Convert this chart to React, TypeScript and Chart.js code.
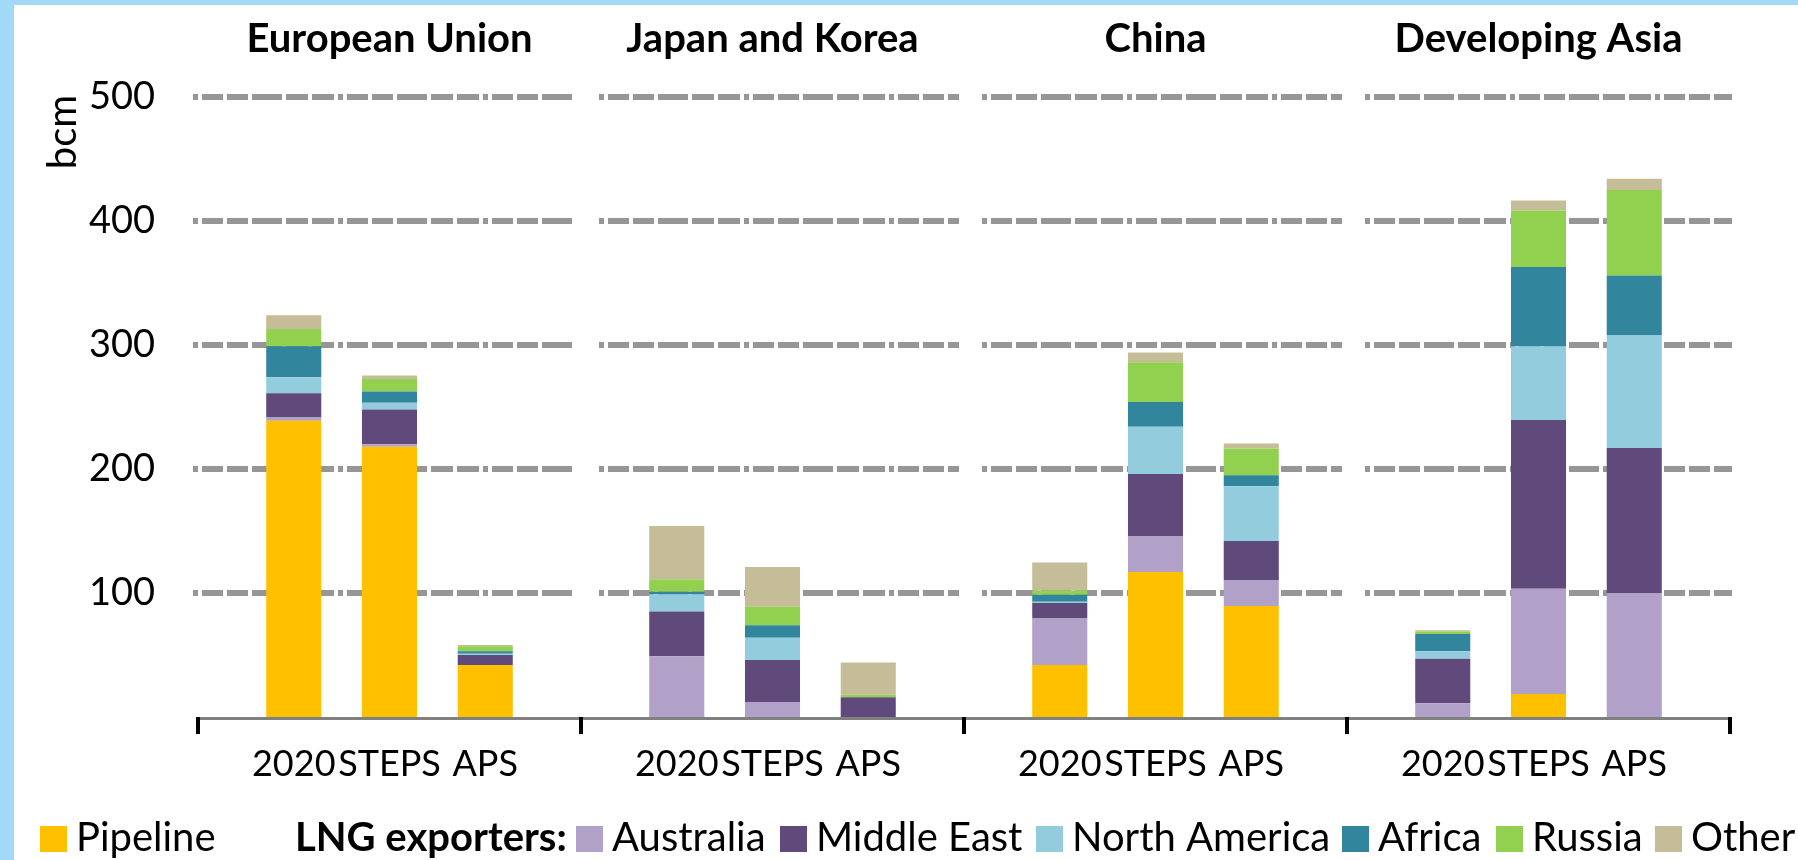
import React, { useEffect, useRef } from 'react';
import { Chart, registerables } from 'chart.js';

Chart.register(...registerables);

// ---------- data ----------
const panels = ['European Union', 'Japan and Korea', 'China', 'Developing Asia'];
const scenarios = ['2020', 'STEPS', 'APS'];
const yTicks = [100, 200, 300, 400, 500];

// values in bcm, per panel [2020, STEPS, APS]
const pipeline = [239, 218, 42, 0, 0, 0, 42, 117, 89.5, 0, 18.5, 0];
const australia = [2.5, 2, 0, 49, 12, 0, 37.5, 29, 21, 11, 85, 100];
const middleEast = [19.5, 28, 8, 36, 34, 16, 12.5, 50, 31.5, 36, 136, 117];
const northAmerica = [13, 5.5, 1, 14, 18, 0, 1, 38, 44, 6, 59.5, 91];
const africa = [25, 9, 2, 2, 10, 0, 5.5, 20, 9, 14, 64, 48];
const russia = [14, 10, 4, 10, 15, 2, 3.5, 32, 21.5, 2, 45.5, 69];
const other = [11, 3, 1, 43, 32, 26, 22.5, 8, 4, 1, 8, 9];

const seriesNames = ['Pipeline', 'Australia', 'Middle East', 'North America', 'Africa', 'Russia', 'Other'];
const seriesValues = [pipeline, australia, middleEast, northAmerica, africa, russia, other];
const seriesColors = ['#FFC000', '#B1A0C7', '#604A7B', '#93CDDD', '#31859C', '#92D050', '#C4BD97'];
const legendLabel = 'LNG exporters:';

// ---------- helpers ----------
const FONT = 'Lato';

function buildLabels(): string[] {
  const out: string[] = [];
  panels.forEach(() => {
    out.push('');
    scenarios.forEach((s) => out.push(s));
  });
  out.push('');
  return out;
}

function buildSeries(vals: number[]): (number | null)[] {
  const out: (number | null)[] = [];
  panels.forEach((_, p) => {
    out.push(null);
    for (let i = 0; i < scenarios.length; i++) out.push(vals[p * scenarios.length + i]);
  });
  out.push(null);
  return out;
}

const legendSquareX = [40, 576, 780, 1036, 1342, 1496, 1655];
const legendGroupX = 295;

const decorPlugin = {
  id: 'decor',
  beforeDatasetsDraw(chart: any) {
    const { ctx } = chart;
    const x = chart.scales.x;
    const y = chart.scales.y;
    ctx.save();
    ctx.strokeStyle = '#969696';
    ctx.lineWidth = 6;
    ctx.setLineDash([5, 4, 21, 4, 21, 4, 30, 4, 22, 4, 22, 4]);
    for (let k = 0; k < panels.length; k++) {
      const x0 = x.getPixelForValue(k * 4) + (k === 0 ? -5 : 18);
      const x1 = x.getPixelForValue(k * 4 + 4) + (k === panels.length - 1 ? 2 : -5);
      for (const v of yTicks) {
        const py = y.getPixelForValue(v);
        ctx.beginPath();
        ctx.moveTo(x0, py);
        ctx.lineTo(x1, py);
        ctx.stroke();
      }
    }
    ctx.restore();
  },
  afterDatasetsDraw(chart: any) {
    const { ctx } = chart;
    const x = chart.scales.x;
    const y = chart.scales.y;
    const bottom = y.getPixelForValue(0);
    ctx.save();
    // axis line
    ctx.fillStyle = '#808080';
    ctx.fillRect(x.left, bottom, x.right - x.left, 3);
    // group tick marks
    ctx.fillStyle = '#000000';
    for (let k = 0; k <= panels.length; k++) {
      const px = x.getPixelForValue(k * 4);
      ctx.fillRect(px - 2, bottom, 4, 17);
    }
    // panel titles
    ctx.font = `bold 40px ${FONT}`;
    ctx.textAlign = 'center';
    ctx.textBaseline = 'alphabetic';
    panels.forEach((name, k) => {
      const cx = (x.getPixelForValue(k * 4) + x.getPixelForValue(k * 4 + 4)) / 2;
      ctx.fillText(name, cx, 52);
    });
    // unit label
    ctx.save();
    ctx.translate(76, 132);
    ctx.rotate(-Math.PI / 2);
    ctx.font = `40px ${FONT}`;
    ctx.textAlign = 'center';
    ctx.fillText('bcm', 0, 0);
    ctx.restore();
    // legend
    ctx.textAlign = 'left';
    ctx.textBaseline = 'alphabetic';
    const baseY = 851;
    seriesNames.forEach((name, i) => {
      const sx = legendSquareX[i];
      ctx.fillStyle = seriesColors[i];
      ctx.fillRect(sx, 826, 27, 26);
      ctx.fillStyle = '#000000';
      ctx.font = `40px ${FONT}`;
      ctx.fillText(name, sx + 36, baseY);
    });
    ctx.font = `bold 40px ${FONT}`;
    ctx.fillText(legendLabel, legendGroupX, baseY);
    ctx.restore();
  },
};

export default function App() {
  const ref = useRef<HTMLCanvasElement | null>(null);

  useEffect(() => {
    if (!ref.current) return;
    const chart = new Chart(ref.current, {
      type: 'bar',
      data: {
        labels: buildLabels(),
        datasets: seriesNames.map((name, i) => ({
          label: name,
          data: buildSeries(seriesValues[i]),
          backgroundColor: seriesColors[i],
          borderWidth: 0,
          barPercentage: 0.575,
          categoryPercentage: 1,
        })),
      },
      options: {
        animation: false,
        responsive: false,
        devicePixelRatio: 1,
        layout: { padding: { top: 97, right: 68, left: 0, bottom: 0 } },
        plugins: { legend: { display: false }, tooltip: { enabled: false }, title: { display: false } },
        scales: {
          x: {
            type: 'category',
            offset: false,
            stacked: true,
            grid: { display: false, drawTicks: false },
            border: { display: false },
            ticks: {
              autoSkip: false,
              maxRotation: 0,
              minRotation: 0,
              padding: 26,
              color: '#000000',
              font: { family: FONT, size: 36 },
            },
            afterFit: (s: any) => {
              s.height = 143;
            },
          },
          y: {
            stacked: true,
            min: 0,
            max: 500,
            grid: { display: false, drawTicks: false },
            border: { display: false },
            ticks: {
              stepSize: 100,
              padding: 43,
              color: '#000000',
              font: { family: FONT, size: 38 },
              callback: (v: any) => (v === 0 ? '' : String(v)),
            },
            afterFit: (s: any) => {
              s.width = 198;
            },
          },
        },
      },
      plugins: [decorPlugin],
    });
    return () => chart.destroy();
  }, []);

  return (
    <div
      style={{
        position: 'absolute',
        left: 0,
        top: 0,
        width: 1798,
        height: 860,
        background: '#ffffff',
        overflow: 'hidden',
      }}
    >
      <div style={{ position: 'absolute', left: 0, top: 0, width: 14, height: 860, background: '#A1D9F6' }} />
      <div style={{ position: 'absolute', left: 0, top: 0, width: 1798, height: 5, background: '#A1D9F6' }} />
      <canvas
        ref={ref}
        width={1798}
        height={860}
        style={{ position: 'absolute', left: 0, top: 0, width: 1798, height: 860, display: 'block' }}
      />
    </div>
  );
}
